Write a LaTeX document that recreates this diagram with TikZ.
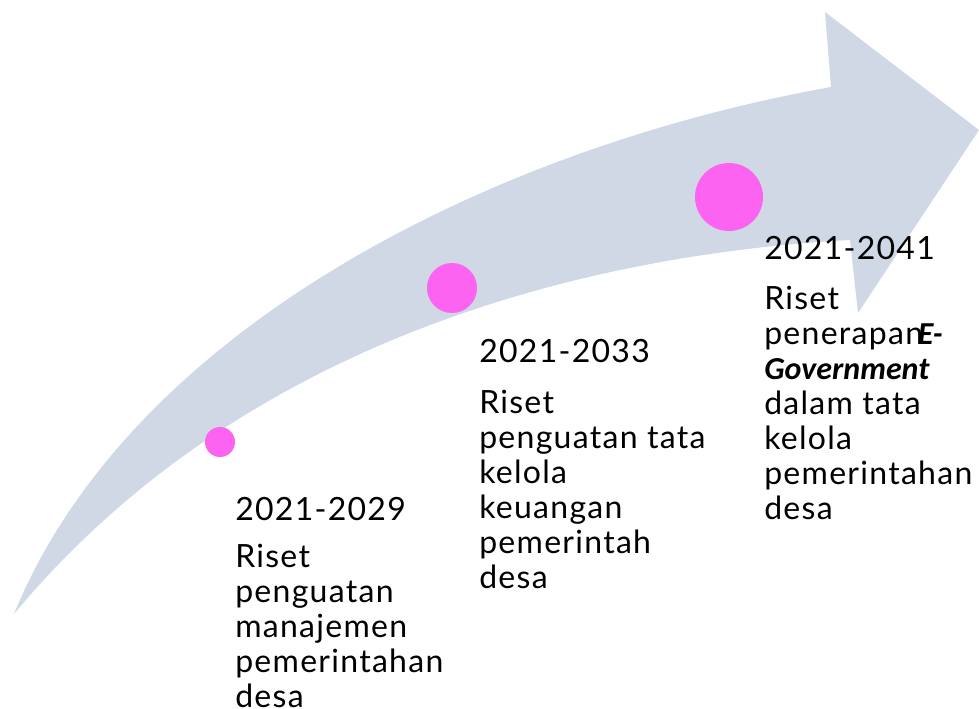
\documentclass[tikz,border=0pt]{standalone}
\usepackage{fontspec}
\setmainfont{Lato}[LetterSpace=4]
\newfontfamily\egovfont{Carlito}
\usepackage{tikz}

\definecolor{arrowfill}{RGB}{208,216,230}
\definecolor{dotpink}{RGB}{252,99,240}

\begin{document}
\begin{tikzpicture}[x=0.75pt,y=0.75pt,yscale=-1,xscale=1,
  dot/.style={circle,fill=dotpink,inner sep=0pt},
  yeartext/.style={anchor=base west,inner sep=0pt,font=\fontsize{24}{26.25}\selectfont},
  desctext/.style={anchor=base west,inner sep=0pt,align=left,font=\fontsize{24}{26.25}\selectfont}]
\useasboundingbox (0,0) rectangle (979,709);

%Shape: Curved Arrow
\fill [arrowfill] (14,614) .. controls (130,330) and (490,148) .. (831,87) -- (825,12) -- (979,130) -- (858,313) -- (850,240) .. controls (580,255) and (240,342) .. cycle ;

%Shape: Circle
\node [dot,minimum size=22.5pt] (dotA) at (220,442) {};
%Shape: Circle
\node [dot,minimum size=37.5pt] (dotB) at (452,288) {};
%Shape: Circle
\node [dot,minimum size=51pt] (dotC) at (729,197) {};

% Text Node (base = last line)
\node [yeartext] (yearA) at (235,520) {2021-2029};
% Text Node
\node [desctext] (descA) at (235,707) {Riset\\penguatan\\manajemen\\pemerintahan\\desa};
% Text Node
\node [yeartext] (yearB) at (479,363) {2021-2033};
% Text Node
\node [desctext] (descB) at (479,588) {Riset\\penguatan tata\\kelola\\keuangan\\pemerintah\\desa};
% Text Node
\node [yeartext] (yearC) at (764,260) {2021-2041};
% Text Node
\node [desctext] (descC) at (764,519) {Riset\\penerapan{\egovfont\bfseries\itshape\kern-4pt E-}\\{\egovfont\bfseries\itshape Government}\\dalam tata\\kelola\\pemerintahan\\desa};
\end{tikzpicture}
\end{document}
